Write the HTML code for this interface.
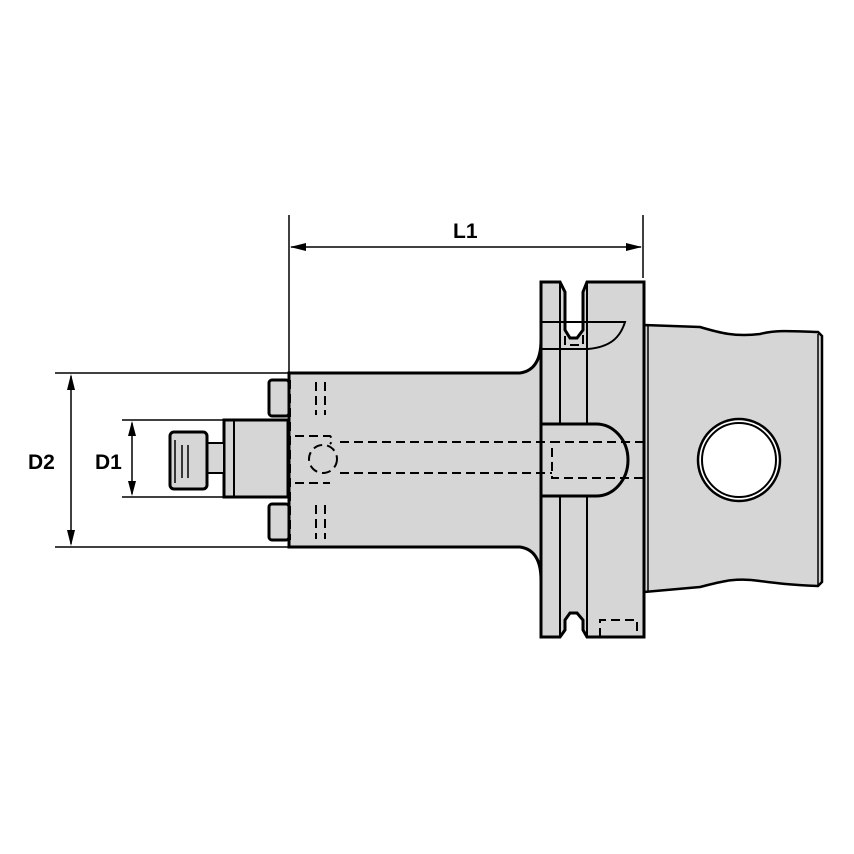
<!DOCTYPE html>
<html><head><style>html,body{margin:0;background:#fff}svg{display:block}</style></head><body>
<svg width="854" height="854" viewBox="0 0 854 854" xmlns="http://www.w3.org/2000/svg" font-family="Liberation Sans, sans-serif">
<g stroke="#000" fill="#d6d6d6">
<path d="M644,325 L700,327 C720,333 735,337 760,334 C775,330 790,331 818,332 L822,336 L822,582 L818,586 C790,585 775,583 760,581 C735,577 720,582 700,587 L644,592 Z" stroke-width="2.5"/>
<line x1="818" y1="334" x2="818" y2="586" stroke-width="1.5"/>
<line x1="648" y1="326" x2="648" y2="592" stroke-width="1.5"/>
<circle cx="739" cy="460" r="41" fill="#fff" stroke-width="2.5"/>
<circle cx="739" cy="460" r="37" fill="none" stroke-width="2"/>
<path d="M541,282 L560,282 L565,292 L565,330 L570,338 L577,338 L583,330 L583,292 L587,282 L644,282 L644,637 L587,637 L583,630 L583,620 L577,613 L570,613 L565,620 L565,630 L560,637 L541,637 Z" stroke-width="3"/>
<line x1="560" y1="282" x2="560" y2="637" stroke-width="2"/>
<line x1="587" y1="282" x2="587" y2="637" stroke-width="2"/>
<path d="M541,322 L625,322 C620,338 610,347 588,349 L541,349" fill="none" stroke-width="2"/>
<path d="M289,373 L520,373 Q541,370 541,340 L541,580 Q541,550 520,547 L289,547 Z" stroke-width="3"/>
<path d="M541,424 L596,424 A32,36 0 0 1 596,496 L541,496 Z" stroke-width="3"/>
<g fill="none" stroke-width="2" stroke-dasharray="9,5">
<path d="M644,442 L552,442 L552,478 L644,478"/>
<line x1="340" y1="442" x2="552" y2="442"/>
<line x1="340" y1="473" x2="552" y2="473"/>
<line x1="325" y1="382" x2="325" y2="415"/><line x1="316" y1="382" x2="316" y2="415"/>
<line x1="325" y1="505" x2="325" y2="539"/><line x1="316" y1="505" x2="316" y2="539"/>
<circle cx="323" cy="459" r="14"/>
<path d="M225,436 L330,436 Q334,440 330,444 M225,483 L330,483"/>
<line x1="290" y1="380" x2="290" y2="540"/>
<path d="M600,637 L600,620 L637,620 L637,637"/>
<path d="M565,322 L565,345 L583,345 L583,322"/>
</g>
<rect x="269" y="380" width="20" height="36" rx="3" stroke-width="3"/>
<rect x="269" y="504" width="20" height="36" rx="3" stroke-width="3"/>
<rect x="224" y="420" width="64" height="77" stroke-width="3"/>
<line x1="234" y1="420" x2="234" y2="497" stroke-width="2"/>
<rect x="207" y="443" width="17" height="30" stroke-width="2"/>
<rect x="170" y="432" width="37" height="57" rx="4" stroke-width="3"/>
<g stroke-width="1.5" fill="none"><line x1="175" y1="440" x2="175" y2="483"/><line x1="182" y1="445" x2="182" y2="478"/><line x1="188" y1="445" x2="188" y2="478"/></g>
</g>
<g stroke="#000" stroke-width="1.5" fill="none">
<line x1="289" y1="215" x2="289" y2="373"/>
<line x1="643" y1="215" x2="643" y2="278"/>
<line x1="291" y1="247" x2="641" y2="247"/>
<line x1="55" y1="373" x2="289" y2="373"/>
<line x1="55" y1="547" x2="289" y2="547"/>
<line x1="71" y1="376" x2="71" y2="544"/>
<line x1="122" y1="420" x2="224" y2="420"/>
<line x1="122" y1="497" x2="224" y2="497"/>
<line x1="132" y1="423" x2="132" y2="494"/>
</g>
<g fill="#000">
<path d="M290,247 L306,243 L306,251 Z"/><path d="M642,247 L626,243 L626,251 Z"/>
<path d="M71,374 L67,390 L75,390 Z"/><path d="M71,546 L67,530 L75,530 Z"/>
<path d="M132,421 L128,436 L136,436 Z"/><path d="M132,496 L128,481 L136,481 Z"/>
</g>
<g font-size="21" fill="#000" font-weight="bold">
<text x="453" y="238">L1</text>
<text x="28" y="469">D2</text>
<text x="95" y="469">D1</text>
</g>
</svg>
</body></html>
